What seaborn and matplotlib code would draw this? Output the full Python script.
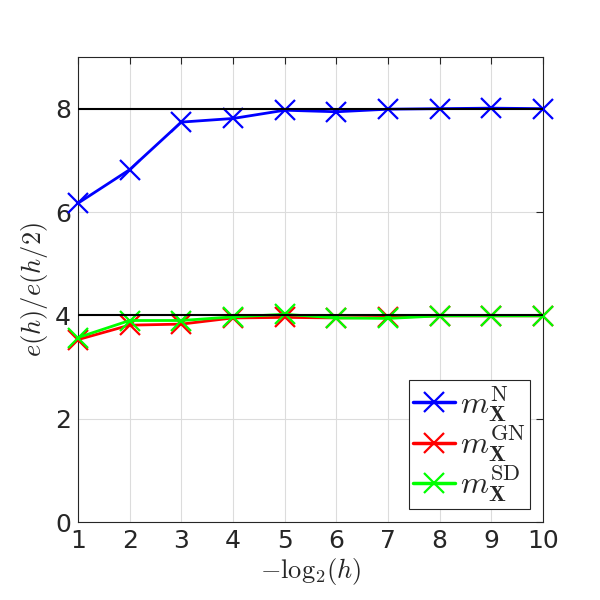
import matplotlib
matplotlib.use("Agg")
import matplotlib.pyplot as plt
import seaborn as sns
import pandas as pd

# refinement level -log2(h)
levels = [1, 2, 3, 4, 5, 6, 7, 8, 9, 10]
# e(h)/e(h/2) ratios
ratio_n = [6.17, 6.82, 7.74, 7.81, 7.97, 7.94, 7.99, 8.00, 8.01, 8.00]
ratio_gn = [3.53, 3.81, 3.83, 3.95, 3.96, 3.95, 3.96, 3.99, 3.99, 3.99]
ratio_sd = [3.57, 3.90, 3.90, 3.97, 4.02, 3.95, 3.94, 3.99, 3.99, 3.99]
ref_orders = [8, 4]

names = [r"$m_{\mathbf{X}}^{\mathrm{N}}$",
         r"$m_{\mathbf{X}}^{\mathrm{GN}}$",
         r"$m_{\mathbf{X}}^{\mathrm{SD}}$"]
colors = ["#0000ff", "#ff0000", "#00ff00"]

df = pd.concat([
    pd.DataFrame({"level": levels, "ratio": vals, "method": nm})
    for nm, vals in zip(names, [ratio_n, ratio_gn, ratio_sd])
])

sns.set_style("white")
plt.rcParams["font.family"] = ["DejaVu Sans"]
plt.rcParams["mathtext.fontset"] = "cm"

fig = plt.figure(figsize=(6, 6), dpi=100)
ax = fig.add_axes([0.13, 0.13, 0.775, 0.775])

sns.lineplot(data=df, x="level", y="ratio", hue="method", palette=colors,
             marker="x", markersize=15, markeredgewidth=1.6, linewidth=2,
             ax=ax, zorder=3, legend=False)
# seaborn paints marker edges white; give them the line colour
for ln in ax.lines:
    ln.set_markeredgecolor(ln.get_color())
    ln.set_clip_on(False)
for r in ref_orders:
    ax.axhline(r, color="black", linewidth=1.5, zorder=4)

ax.set_xlim(1, 10)
ax.set_ylim(0, 9)
ax.set_xticks(levels)
ax.set_yticks([0, 2, 4, 6, 8])
ax.grid(True, color="#dcdcdc", linewidth=0.8)
ax.tick_params(direction="in", labelsize=18, length=5, top=True, right=True,
               colors="#262626", pad=5)
for s in ax.spines.values():
    s.set_color("#262626")
    s.set_linewidth(0.8)
ax.set_xlabel(r"$-\mathrm{log}_2(h)$", fontsize=19, labelpad=2)
ax.set_ylabel(r"$e(h)/e(h/2)$", fontsize=19, labelpad=4)

handles = [plt.Line2D([], [], color=c, marker="x", markersize=15,
                      markeredgewidth=1.6, linewidth=2.5) for c in colors]
leg = ax.legend(handles, names, loc="lower right", fontsize=23, fancybox=False,
                framealpha=1, edgecolor="#262626", handlelength=1.3,
                handletextpad=0.15, labelspacing=0.0, borderpad=0.15,
                borderaxespad=0.4)
leg.get_frame().set_linewidth(0.8)
leg.set_zorder(5)

fig.savefig("out.png", dpi=100)
